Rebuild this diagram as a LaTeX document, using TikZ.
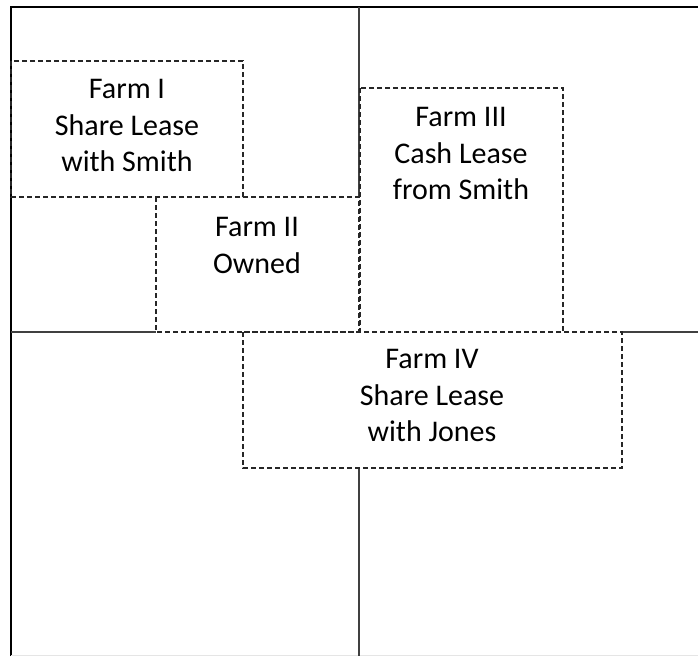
\documentclass[tikz,border=0pt]{standalone}
\usepackage{fontspec}
\setmainfont{Carlito}
\usepackage{tikz}

\begin{document}
\begin{tikzpicture}[x=1pt,y=-1pt,
        farm/.style={draw=black!85,line width=1.4pt,dash pattern=on 5pt off 3pt},
        fence/.style={draw=black!75,line width=2pt},
        label/.style={align=center,anchor=north,inner sep=0pt,
            font=\fontsize{30}{36.6}\selectfont}]
        \useasboundingbox (0,0) rectangle (698,656);

        % Outline
        \draw [black,line width=2.4pt] (11,656) -- (11,7) -- (698,7);
        \draw [black!10] (11,655) -- (698,655);
        \draw [fence] (359,7) -- (359,197);
        \draw [fence] (359,468) -- (359,656);
        \draw [fence] (11,332) -- (156,332);
        \draw [fence] (622,332) -- (698,332);

        % Farms
        \path [farm] (11,61) rectangle (243,197);
        \path [farm] (156,197) rectangle (359,332);
        \path [farm] (360,88) rectangle (563,332);
        \path [farm] (243,332) rectangle (622,468);

        % Labels
        \node [label] (farmI) at (127,79) {Farm I\\Share Lease\\with Smith};
        \node [label] (farmII) at (257,217) {Farm II\\Owned};
        \node [label] (farmIII) at (461,107) {Farm III\\Cash Lease\\from Smith};
        \node [label] (farmIV) at (432,349) {Farm IV\\Share Lease\\with Jones};
    \end{tikzpicture}
\end{document}
